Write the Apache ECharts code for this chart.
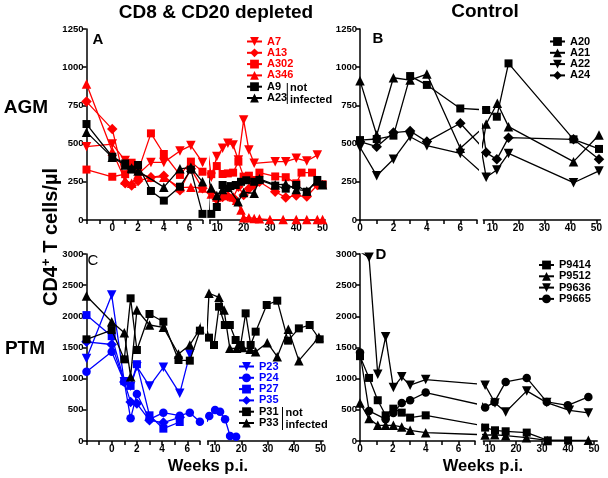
<!DOCTYPE html>
<html><head><meta charset="utf-8">
<script src="https://cdn.jsdelivr.net/npm/echarts@6/dist/echarts.min.js"></script>
<style>html,body{margin:0;padding:0;background:#fff}#c{width:608px;height:478px}</style>
</head><body><div id="c"></div>
<script>
// ===== DATA: [week p.i., CD4+ T cells/ul] =====
// Panel A (AGM, CD8 & CD20 depleted)
const A7   = [[-2,480],[0,497],[1,390],[1.5,340],[2,300],[3,377],[4,377],[5.25,452],[6.1,487],[7,377],[7.7,280],[9.8,415],[12,469],[14,502],[16,491],[18,393],[20,654],[22,458],[24,371],[32,382],[36,382],[40,404],[44,386],[48,425]];
const A13  = [[-2,775],[0,595],[1,240],[1.5,225],[2,255],[3,280],[4,290],[5.25,195],[6.1,335],[7,207],[7.7,180],[9.8,135],[12,150],[14,155],[16,145],[18,218],[20,164],[22,205],[24,230],[26,250],[32,185],[36,148],[40,160],[44,153],[48,229]];
const A302 = [[-2,330],[0,283],[1,300],[1.5,375],[2,320],[3,567],[4,432],[5.25,295],[6.1,382],[7,316],[7.7,300],[9.8,353],[12,301],[14,305],[16,310],[18,382],[20,284],[22,290],[24,262],[26,310],[32,285],[36,280],[40,240],[42,310],[46,310],[50,234]];
const A346 = [[-2,890],[0,450],[1,260],[1.5,240],[2,300],[3,280],[4,280],[5.25,212],[6.1,215],[7,210],[7.7,170],[9.8,150],[12,165],[14,160],[16,150],[17.3,130],[19,65],[20,15],[22,15],[24,10],[26,8],[30,3],[35,3],[40,3],[44,3],[48,3],[50,3]];
const A9   = [[-2,628],[0,414],[1,370],[1.5,330],[2,360],[3,190],[4,127],[5.25,218],[6.1,330],[7,40],[7.7,40],[9.8,85],[12,229],[15,222],[17,229],[19,250],[21,260],[24,250],[26,262],[32,225],[36,205],[40,229],[44,185],[48,262],[50,230]];
const A23  = [[-2,575],[0,410],[1,360],[1.5,340],[2,320],[4,215],[5.25,335],[6.1,345],[7,250],[7.7,210],[9.8,160],[12,200],[14,215],[17.9,120],[20,180],[24,175],[26,270],[32,230],[36,235],[40,200],[44,190],[48,255],[50,230]];
// Panel B (AGM, control)
const A20 = [[0,523],[1,530],[2,552],[3,942],[4,884],[6,730],[7.6,720],[11.7,676],[16.2,1025],[41.2,528],[51,465]];
const A21 = [[0,912],[1,556],[2,931],[3,916],[4,955],[6,469],[7.6,628],[11.9,764],[16.2,611],[41.2,382],[51,556]];
const A22 = [[0,476],[1,290],[2,397],[3,545],[4,486],[6,436],[7.6,280],[11.7,327],[16.2,436],[41.2,244],[51,321]];
const A24 = [[0,513],[1,480],[2,572],[3,582],[4,513],[6,633],[7.6,441],[11.7,397],[16.2,539],[41.2,528],[51,397]];
// Panel C (PTM, CD8 & CD20 depleted)
const P23 = [[-2,1323],[0,2341],[1,950],[1.5,880],[2,1192],[3,882],[4.1,1182],[5.4,765],[6.2,1395]];
const P24 = [[-2,1112],[0,1433],[1,950],[1.5,364],[2,754],[3,348],[4.1,454],[5.4,406],[6.2,454],[7,310],[7.8,401],[10,497],[11.9,470],[13.8,348],[15.7,80],[18,70]];
const P27 = [[-2,2020],[0,1682],[1,960],[1.5,884],[2,1232],[3,412],[4.1,198],[5.4,305]];
const P35 = [[-2,1591],[0,1548],[1,948],[1.5,627],[2,600],[3,332],[4.1,295],[5.4,380]];
const P31 = [[-2,1631],[0,1780],[1,1310],[1.5,2289],[2,1460],[3,2037],[4.1,1914],[5.3,1299],[6.2,1289],[7,1770],[7.7,1658],[9.6,1540],[11.5,2155],[13.7,1861],[15.6,1861],[17.8,1620],[19.7,1540],[21.6,2048],[23.5,1540],[25.4,1754],[29.6,2182],[33.6,2251],[37.7,1610],[41.8,1807],[45.9,1861],[49.7,1631]];
const P33 = [[-2,2326],[0,1914],[1,1738],[1.5,1032],[2,2101],[3,1861],[4.1,1823],[5.3,1396],[6.2,1540],[7,1800],[7.7,2370],[11.5,2305],[13.4,2100],[15.6,1487],[18.2,1487],[20.5,1500],[23.3,1470],[25.4,1433],[29.8,1578],[33.6,1353],[37.8,1791],[41.8,1289],[49.4,1663]];
// Panel D (PTM, control)
const P9414 = [[0,1361],[0.55,1012],[1.08,654],[1.56,412],[2.03,519],[2.54,455],[3.05,375],[4,412],[8.1,215],[11.9,172],[16,156],[24.1,135],[32.2,10],[40,10]];
const P9512 = [[0,611],[0.55,359],[1.08,252],[1.56,252],[2.03,252],[2.54,225],[3.05,171],[4,134],[8.1,95],[11.8,100],[16,86],[24,54],[32,10],[47.8,11]];
const P9636 = [[0,3037],[0.55,2946],[1.08,1071],[1.56,1671],[2.03,857],[2.54,1029],[3.05,895],[4,986],[8.1,895],[11.9,611],[16,466],[24.1,804],[31.8,616],[40.5,493],[47.8,450]];
const P9665 = [[0,1420],[0.55,482],[1.56,350],[2.03,450],[2.54,611],[3.05,654],[4,777],[8.1,536],[11.7,627],[16,948],[24.1,1012],[31.8,627],[39.9,573],[47.8,707]];

// tick labels
const leftTicksAC = [-2,-1,0,1,2,3,4,5,6,7];
const leftTicksBD = [0,1,2,3,4,5,6,7];
const leftLabels = [0,2,4,6];
const rightLabels = [10,20,30,40,50];
const yMaxAGM = 1250, yStepAGM = 250;
const yMaxPTM = 3000, yStepPTM = 500;

// ===== STYLE / LAYOUT =====
const FONT = 'Liberation Sans, Arial, Helvetica, sans-serif';
const RED = '#ff0000', BLUE = '#0000ff', BLK = '#000000';
const SYM = {
  sq:  {symbol:'rect', size:8, rot:0},
  up:  {symbol:'triangle', size:9.5, rot:0},
  dn:  {symbol:'triangle', size:9.5, rot:180},
  dia: {symbol:'diamond', size:10.5, rot:0},
  cir: {symbol:'circle', size:8.5, rot:0}
};
const grids = [
  {left:86.5, top:29, width:116, height:191},
  {left:209.7, top:29, width:115.5, height:191},
  {left:360, top:29, width:117, height:191},
  {left:483.3, top:29, width:117, height:191},
  {left:86.5, top:254, width:113.4, height:187},
  {left:207.7, top:254, width:115.4, height:187},
  {left:360, top:254, width:115, height:187},
  {left:483.3, top:254, width:113.9, height:187}
];
const xRanges = [[-2,7],[7.1,51],[0,7],[6.5,51.5],[-2,7],[7.2,51],[0,7],[7.4,51.2]];

const panels = [
  {g:[0,1], yMax:yMaxAGM, yStep:yStepAGM, ticks:leftTicksAC, series:[['A7',A7,RED,'dn'],['A13',A13,RED,'dia'],['A302',A302,RED,'sq'],['A346',A346,RED,'up'],['A9',A9,BLK,'sq'],['A23',A23,BLK,'up']], legend:{left:246, top:36}},
  {g:[2,3], yMax:yMaxAGM, yStep:yStepAGM, ticks:leftTicksBD, series:[['A20',A20,BLK,'sq'],['A21',A21,BLK,'up'],['A22',A22,BLK,'dn'],['A24',A24,BLK,'dia']], legend:{left:549, top:36}},
  {g:[4,5], yMax:yMaxPTM, yStep:yStepPTM, ticks:leftTicksAC, series:[['P23',P23,BLUE,'dn'],['P24',P24,BLUE,'cir'],['P27',P27,BLUE,'sq'],['P35',P35,BLUE,'dia'],['P31',P31,BLK,'sq'],['P33',P33,BLK,'up']], legend:{left:238, top:361}},
  {g:[6,7], yMax:yMaxPTM, yStep:yStepPTM, ticks:leftTicksBD, series:[['P9414',P9414,BLK,'sq'],['P9512',P9512,BLK,'up'],['P9636',P9636,BLK,'dn'],['P9665',P9665,BLK,'cir']], legend:{left:538, top:259.5}}
];

const axisLine = {show:true, onZero:false, lineStyle:{color:'#000', width:1.5}};
const axisTickBase = {show:true, inside:false, length:4, lineStyle:{color:'#000', width:1.5}};
const labelBase = {color:'#000', fontWeight:'bold', fontSize:10, fontFamily:FONT, margin:3, formatter: v => String(v)};

const xAxis = [], yAxis = [], series = [], legend = [];
panels.forEach(p => {
  p.g.forEach((gi, side) => {
    const [mn, mx] = xRanges[gi];
    xAxis.push({
      type:'value', gridIndex:gi, min:mn, max:mx,
      axisLine, splitLine:{show:false},
      axisTick: Object.assign({}, axisTickBase, {customValues: side === 0 ? p.ticks : [mn].concat(rightLabels)}),
      axisLabel: Object.assign({}, labelBase, {customValues: side === 0 ? leftLabels : rightLabels})
    });
    yAxis.push({
      type:'value', gridIndex:gi, min:0, max:p.yMax, interval:p.yStep, show: side === 0,
      axisLine, splitLine:{show:false}, axisTick:axisTickBase,
      axisLabel: Object.assign({}, labelBase, {fontSize:9.5})
    });
    p.series.forEach(([name, data, color, sk], k) => {
      const s = SYM[sk];
      series.push({
        type:'line', name, data, xAxisIndex:gi, yAxisIndex:gi, clip:true,
        symbol:s.symbol, symbolSize:s.size, symbolRotate:s.rot, showAllSymbol:true,
        itemStyle:{color, borderWidth:0}, lineStyle:{color, width:1.3},
        emphasis:{disabled:true}, z: 2 + k
      });
    });
  });
  legend.push({
    orient:'vertical', left:p.legend.left, top:p.legend.top,
    itemWidth:15, itemHeight:11, itemGap:0.3, padding:0,
    selectedMode:false,
    textStyle:{fontSize:11, fontWeight:'bold', fontFamily:FONT, lineHeight:11},
    data: p.series.map(([name, , color]) => ({name, textStyle:{color}}))
  });
});

function txt(x, y, text, size, extra) {
  return Object.assign({type:'text', x, y, silent:true, style:{
    text, fill:'#000', fontSize:size, fontWeight:'bold', fontFamily:FONT,
    align:'center', verticalAlign:'middle', textAlign:'center', textVerticalAlign:'middle'
  }}, extra || {});
}
function bar(x, y1, y2) {
  return {type:'line', silent:true, shape:{x1:x, y1:y1, x2:x, y2:y2}, style:{stroke:'#000', lineWidth:1}};
}
function leftTxt(x, y, text) {
  return {type:'text', x, y, silent:true, style:{text, fill:'#000', fontSize:11, fontWeight:'bold', fontFamily:FONT,
    align:'left', verticalAlign:'middle', textAlign:'left', textVerticalAlign:'middle'}};
}

const graphic = [
  txt(216, 13, 'CD8 & CD20 depleted', 19),
  txt(485, 12, 'Control', 19),
  txt(26, 108, 'AGM', 19),
  txt(25, 349, 'PTM', 19),
  txt(208, 466, 'Weeks p.i.', 16.5),
  txt(483, 466, 'Weeks p.i.', 16.5),
  txt(98, 40, 'A', 15),
  txt(378, 39, 'B', 15),
  {type:'text', x:93, y:261, silent:true, style:{text:'C', fill:'#000', fontSize:15, fontFamily:FONT, align:'center', verticalAlign:'middle', textAlign:'center', textVerticalAlign:'middle'}},
  txt(381, 255, 'D', 15),
  {type:'text', x:51, y:237, rotation:Math.PI/2, silent:true, style:{
    text:'{a|CD4}{s|+}{a| T cells/µl}', fill:'#000', fontFamily:FONT,
    align:'center', verticalAlign:'middle', textAlign:'center', textVerticalAlign:'middle',
    rich:{a:{fontSize:20, fontWeight:'bold', fontFamily:FONT, lineHeight:22}, s:{fontSize:13, fontWeight:'bold', fontFamily:FONT, verticalAlign:'top', lineHeight:22}}
  }},
  bar(287.3, 83, 104), leftTxt(290, 88, 'not'), leftTxt(290, 99.5, 'infected'),
  bar(282.5, 407, 430), leftTxt(285.5, 413, 'not'), leftTxt(285.5, 424.5, 'infected')
];

const chart = echarts.init(document.getElementById('c'), null, {renderer:'canvas'});
chart.setOption({
  animation:false,
  backgroundColor:'#fff',
  textStyle:{fontFamily:FONT},
  grid: grids.map(g => Object.assign({containLabel:false, outerBoundsMode:'none', show:false}, g)),
  xAxis, yAxis, series, legend, graphic,
  tooltip:{show:false}
});
</script>
</body></html>
